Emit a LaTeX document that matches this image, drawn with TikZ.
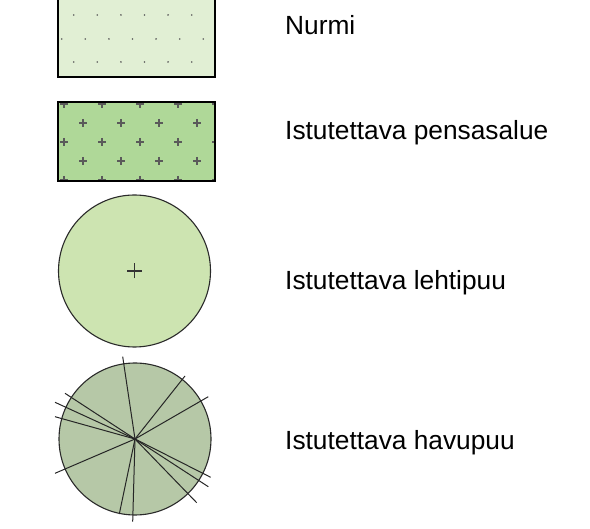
\documentclass[tikz,border=0pt]{standalone}
\usepackage{fontspec}
\setmainfont{Liberation Sans}
\definecolor{nurmifill}{HTML}{E1EFD4}
\definecolor{pensasfill}{HTML}{AFD898}
\definecolor{lehtifill}{HTML}{CDE4B1}
\definecolor{havufill}{HTML}{B6C8A7}
\definecolor{patgray}{HTML}{5A5A5A}
\definecolor{edgegray}{HTML}{2A2A2A}
\begin{document}
\begin{tikzpicture}[x=1pt,y=-1pt,
  box/.style={rectangle,draw=black,line width=2pt,minimum width=156.5pt,minimum height=78.5pt,inner sep=0pt,outer sep=0pt},
  tree/.style={circle,draw=edgegray,line width=1.1pt,minimum size=152pt,inner sep=0pt,outer sep=0pt},
  label/.style={anchor=base west,inner sep=0pt,font=\fontsize{26.3}{30}\selectfont,text=black},
  ray/.style={draw=black!85,line width=1pt},
  dotmark/.style={fill=patgray},
  plusmark/.style={draw=patgray,line width=1.2pt}]
\useasboundingbox (0,0) rectangle (590,529);
% Nurmi
\node[box,fill=nurmifill] (nurmi) at (136.4,37.4) {};
\begin{scope}
  \clip (58.4,-1.9) rectangle (214.4,76.7);
  \foreach \y in {15,62} \foreach \j in {0,...,5} \fill[dotmark] (73.7+23.6*\j,\y) circle (0.9);
  \foreach \j in {0,...,6} \fill[dotmark] (61.7+23.6*\j,39) circle (0.9);
\end{scope}
\draw[line width=2pt] (nurmi.south west) rectangle (nurmi.north east);
% Pensasalue
\node[box,fill=pensasfill] (pensas) at (136.5,141.3) {};
\begin{scope}
  \clip (pensas.south west) rectangle (pensas.north east);
  \foreach \y in {104,142,180} \foreach \j in {0,...,4}
    \draw[plusmark] (64+38*\j-4,\y) -- ++(8,0) (64+38*\j,\y-4) -- ++(0,8);
  \foreach \y in {123,161} \foreach \j in {0,...,3}
    \draw[plusmark] (83+38*\j-4,\y) -- ++(8,0) (83+38*\j,\y-4) -- ++(0,8);
\end{scope}
\draw[line width=2pt] (pensas.south west) rectangle (pensas.north east);
% Lehtipuu
\node[tree,fill=lehtifill] (lehti) at (134.5,271) {};
\draw[draw=black!80,line width=1.1pt] ([xshift=-7.5pt]lehti.center) -- ([xshift=7.5pt]lehti.center)
  ([yshift=-7.5pt]lehti.center) -- ([yshift=7.5pt]lehti.center);
% Havupuu
\node[tree,fill=havufill] (havu) at (135,439) {};
\foreach \px/\py in {122.7/356.7,185/376,208.3/396.7,65/393.3,55/402.3,55/416.7,55/473.3,210.7/477.3,208.3/486.7,196.7/502.7,119.3/514,132.7/521.7}
  \draw[ray] (havu.center) -- (\px,\py);
% Labels
\node[label] (tnurmi) at (285,35) {Nurmi};
\node[label] (tpensas) at (285,140) {Istutettava pensasalue};
\node[label] (tlehti) at (285,289.3) {Istutettava lehtipuu};
\node[label] (thavu) at (285,450) {Istutettava havupuu};
\end{tikzpicture}
\end{document}
